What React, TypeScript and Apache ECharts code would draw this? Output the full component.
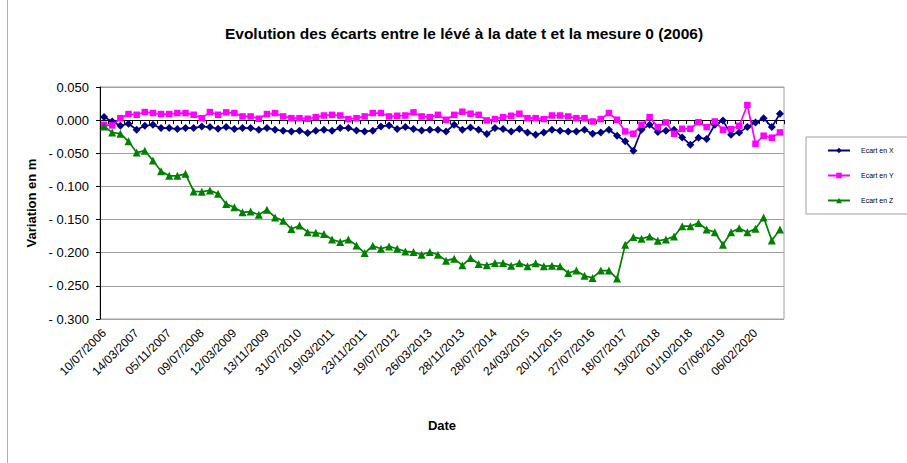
import React, { useEffect, useRef } from "react";
import * as echarts from "echarts";

const tickLabels = [
  "10/07/2006", "14/03/2007", "05/11/2007", "09/07/2008", "12/03/2009", "13/11/2009",
  "31/07/2010", "19/03/2011", "23/11/2011", "19/07/2012", "26/03/2013", "28/11/2013",
  "28/07/2014", "24/03/2015", "20/11/2015", "27/07/2016", "18/07/2017", "13/02/2018",
  "01/10/2018", "07/06/2019", "06/02/2020",
];

const ecartX = [
  0.0047, -0.002, -0.0085, -0.0054, -0.0145, -0.0085, -0.007, -0.012, -0.012, -0.0135,
  -0.012, -0.012, -0.0095, -0.0105, -0.013, -0.0105, -0.0135, -0.012, -0.012, -0.0145,
  -0.012, -0.0145, -0.016, -0.017, -0.016, -0.0195, -0.016, -0.0145, -0.016, -0.012,
  -0.012, -0.0155, -0.017, -0.016, -0.0095, -0.008, -0.0135, -0.0105, -0.0135, -0.0155,
  -0.0145, -0.0145, -0.017, -0.007, -0.0145, -0.011, -0.0145, -0.021, -0.012, -0.0135,
  -0.017, -0.0135, -0.0185, -0.022, -0.0185, -0.0145, -0.016, -0.017, -0.017, -0.0145,
  -0.0205, -0.0185, -0.0145, -0.0235, -0.032, -0.046, -0.0145, -0.007, -0.018, -0.016,
  -0.0145, -0.026, -0.037, -0.0265, -0.0285, -0.007, -0.0004, -0.022, -0.0185, -0.0105,
  -0.0034, 0.003, -0.0105, 0.0097,
];

const ecartY = [
  -0.007, -0.008, 0.003, 0.0092, 0.0081, 0.0122, 0.0107, 0.0092, 0.0092, 0.0107,
  0.0107, 0.0081, 0.003, 0.0122, 0.0081, 0.0117, 0.0107, 0.0056, 0.0056, 0.0021,
  0.0092, 0.0107, 0.0056, 0.003, 0.003, 0.0021, 0.0046, 0.007, 0.008, 0.007,
  0.0016, 0.003, 0.0056, 0.0107, 0.0107, 0.0056, 0.0066, 0.007, 0.0117, 0.0056,
  0.0046, 0.008, 0.0006, 0.008, 0.0127, 0.0097, 0.008, -0.0004, 0.0016, 0.0046,
  0.0066, 0.0097, 0.003, 0.003, 0.0016, 0.007, 0.007, 0.0056, 0.003, 0.003,
  -0.002, 0.0016, 0.0107, 0.0006, -0.017, -0.0205, -0.007, 0.0046, -0.0105, -0.0034,
  -0.0205, -0.013, -0.013, -0.003, -0.0105, -0.002, -0.0145, -0.0135, -0.0085, 0.0228,
  -0.0356, -0.0235, -0.0265, -0.0185,
];

const ecartZ = [
  -0.0095, -0.0185, -0.0205, -0.032, -0.049, -0.046, -0.061, -0.077, -0.084, -0.084,
  -0.081, -0.1075, -0.108, -0.106, -0.111, -0.1266, -0.1316, -0.139, -0.138, -0.1427,
  -0.135, -0.1467, -0.1517, -0.1643, -0.159, -0.169, -0.17, -0.1718, -0.18, -0.184,
  -0.18, -0.189, -0.2005, -0.1895, -0.194, -0.1905, -0.194, -0.198, -0.199, -0.203,
  -0.199, -0.203, -0.212, -0.209, -0.219, -0.208, -0.217, -0.219, -0.2155, -0.2155,
  -0.2196, -0.2155, -0.2206, -0.216, -0.2206, -0.2196, -0.2206, -0.2306, -0.227, -0.2347,
  -0.238, -0.227, -0.227, -0.239, -0.188, -0.1764, -0.179, -0.1754, -0.182, -0.18,
  -0.1754, -0.16, -0.16, -0.155, -0.165, -0.169, -0.188, -0.169, -0.163, -0.169,
  -0.164, -0.1467, -0.1815, -0.165,
];

const categories = ecartX.map((_, i) => (i % 4 === 0 ? tickLabels[i / 4] : ""));

const FONT = "'Liberation Sans', Arial, sans-serif";

export default function App() {
  const ref = useRef<HTMLDivElement>(null);
  useEffect(() => {
    if (!ref.current) return;
    const chart = echarts.init(ref.current, undefined, { renderer: "svg" });
    const mk = (name: string, data: number[], color: string, symbol: string, size: number) => ({
      name,
      type: "line",
      data,
      symbol,
      symbolSize: size,
      showSymbol: true,
      showAllSymbol: true,
      lineStyle: { color, width: 1.7 },
      itemStyle: { color },
      emphasis: { disabled: true },
    });
    chart.setOption({
      animation: false,
      textStyle: { fontFamily: FONT },
      graphic: [
        {
          type: "line",
          shape: { x1: 7.5, y1: 0, x2: 7.5, y2: 463 },
          style: { stroke: "#b0b0b0", lineWidth: 1 },
        },
        {
          type: "text",
          x: 464,
          y: 33,
          style: {
            text: "Evolution des écarts entre le lévé à la date t et la mesure 0 (2006)",
            font: `bold 15.5px ${FONT}`,
            fill: "#000",
            textAlign: "center",
            textVerticalAlign: "middle",
          },
        },
      ],
      legend: {
        orient: "vertical",
        left: 806,
        top: 137,
        padding: [10, 14, 10, 21],
        itemWidth: 22,
        itemHeight: 7,
        itemGap: 18,
        selectedMode: false,
        borderColor: "#a0a0a0",
        borderWidth: 1,
        textStyle: { fontSize: 7, color: "#000", fontFamily: FONT, padding: [0, 0, 0, 6] },
        data: ["Ecart en X", "Ecart en Y", "Ecart en Z"],
      },
      grid: {
        left: 100,
        right: 123,
        top: 87,
        bottom: 144,
        show: true,
        borderColor: "#a0a0a0",
        borderWidth: 1,
      },
      xAxis: {
        type: "category",
        data: categories,
        boundaryGap: true,
        name: "Date",
        nameLocation: "middle",
        nameGap: 100,
        nameTextStyle: { fontWeight: "bold", fontSize: 13, color: "#000" },
        axisLine: { lineStyle: { color: "#000", width: 1 } },
        axisTick: { show: true, interval: 0, length: 4, lineStyle: { color: "#000" } },
        axisLabel: {
          interval: 3,
          rotate: 45,
          fontSize: 12,
          color: "#000",
          margin: 12,
        },
        splitLine: { show: false },
      },
      yAxis: {
        type: "value",
        min: -0.3,
        max: 0.05,
        interval: 0.05,
        name: "Variation en m",
        nameLocation: "middle",
        nameGap: 60,
        nameTextStyle: { fontWeight: "bold", fontSize: 13, color: "#000" },
        axisLine: { show: true, lineStyle: { color: "#000", width: 1 } },
        axisTick: { show: true, length: 4, lineStyle: { color: "#000" } },
        axisLabel: {
          fontSize: 13,
          color: "#000",
          margin: 11,
          formatter: (v: number) => {
            const r = Math.round(v * 1000) / 1000;
            return r < 0 ? "- " + Math.abs(r).toFixed(3) : r.toFixed(3);
          },
        },
        splitLine: { show: true, lineStyle: { color: "#a0a0a0", width: 1 } },
      },
      series: [
        mk("Ecart en X", ecartX, "#000080", "diamond", 8),
        mk("Ecart en Y", ecartY, "#FF00FF", "rect", 6.5),
        mk("Ecart en Z", ecartZ, "#008000", "triangle", 8),
      ],
    });
    return () => chart.dispose();
  }, []);
  return (
    <div
      ref={ref}
      style={{ position: "fixed", left: 0, top: 0, width: 907, height: 463, background: "#fff" }}
    />
  );
}
